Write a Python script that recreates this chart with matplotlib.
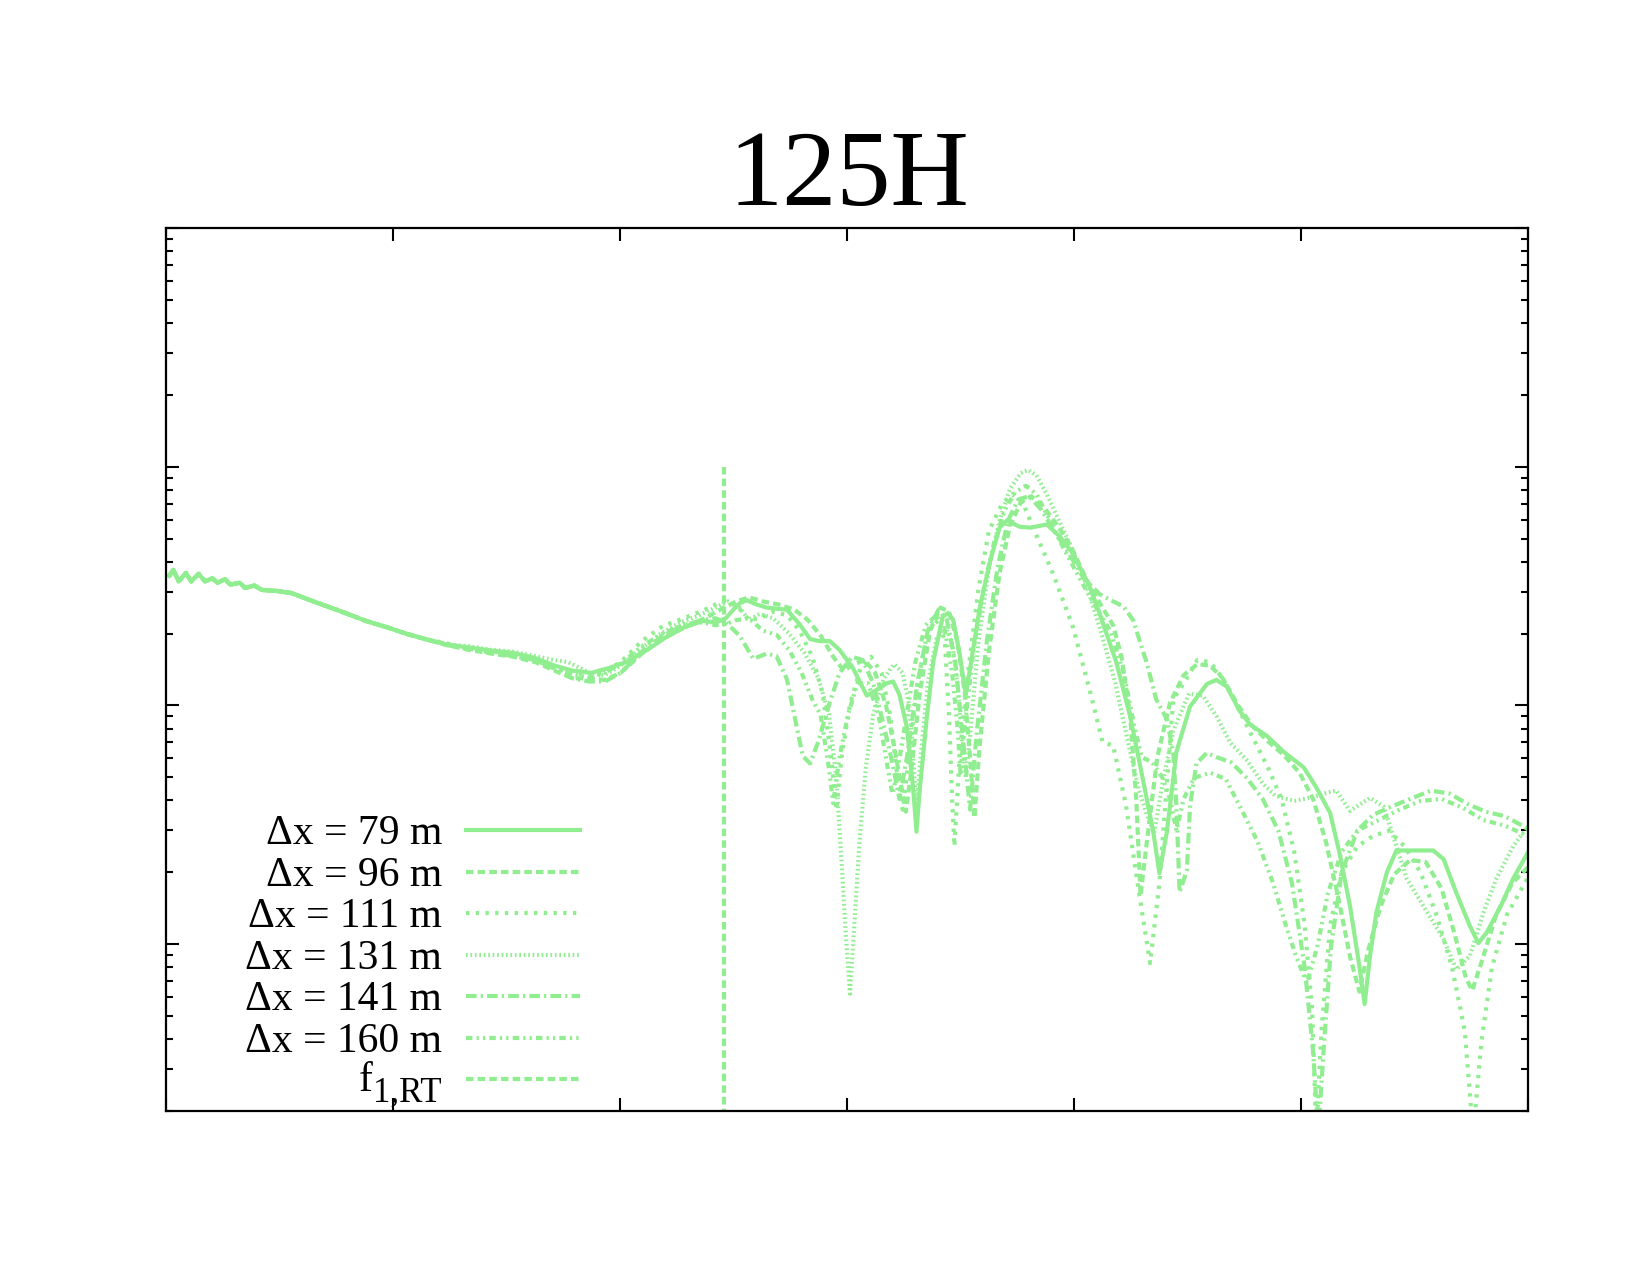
import matplotlib
matplotlib.use("Agg")
import matplotlib.pyplot as plt
from matplotlib.ticker import FixedLocator, LogLocator, NullLocator, NullFormatter

plt.rcParams['font.family'] = ['Liberation Serif', 'DejaVu Serif']
plt.rcParams['lines.scale_dashes'] = False

# shared low-frequency part (all runs agree here)
common = [(0.014, 0.0349), (0.032, 0.0370), (0.056, 0.0331), (0.088, 0.0359), (0.111, 0.0331),
          (0.144, 0.0356), (0.172, 0.0331), (0.204, 0.0341), (0.227, 0.0327), (0.260, 0.0338),
          (0.283, 0.0321), (0.325, 0.0327), (0.348, 0.0311), (0.389, 0.0318), (0.422, 0.0305),
          (0.487, 0.0302), (0.552, 0.0296), (0.649, 0.0273), (0.765, 0.0249), (0.881, 0.0226),
          (0.978, 0.0212), (1.057, 0.0200), (1.140, 0.0190)]

dx79 = [(1.238, 0.0180), (1.335, 0.0175), (1.433, 0.0170), (1.530, 0.0166), (1.627, 0.0158),
        (1.711, 0.0147), (1.790, 0.0140), (1.873, 0.0137), (1.956, 0.0144), (2.035, 0.0153),
        (2.119, 0.0171), (2.198, 0.0192), (2.281, 0.0212), (2.364, 0.0226), (2.420, 0.0223),
        (2.466, 0.0232), (2.499, 0.0252), (2.527, 0.0268), (2.559, 0.0276), (2.601, 0.0265),
        (2.647, 0.0257), (2.735, 0.0252), (2.791, 0.0219), (2.837, 0.0190), (2.879, 0.0186),
        (2.925, 0.0186), (2.967, 0.0171), (3.027, 0.0143), (3.087, 0.0110), (3.129, 0.0116),
        (3.176, 0.0124), (3.203, 0.0126), (3.231, 0.0111), (3.264, 0.00808), (3.292, 0.00440),
        (3.306, 0.00296), (3.320, 0.00440), (3.352, 0.00903), (3.380, 0.0153), (3.421, 0.0235),
        (3.445, 0.0244), (3.468, 0.0228), (3.496, 0.0165), (3.523, 0.0111), (3.547, 0.0153),
        (3.584, 0.0255), (3.630, 0.0401), (3.672, 0.0556), (3.704, 0.0596), (3.760, 0.0561),
        (3.806, 0.0556), (3.880, 0.0573), (3.936, 0.0512), (3.996, 0.0432), (4.071, 0.0311),
        (4.112, 0.0244), (4.186, 0.0152), (4.247, 0.00903), (4.302, 0.00497), (4.349, 0.00296),
        (4.376, 0.00198), (4.409, 0.00296), (4.451, 0.00639), (4.511, 0.00990), (4.585, 0.0123),
        (4.627, 0.0128), (4.673, 0.0120), (4.729, 0.00950), (4.775, 0.00833), (4.850, 0.00745),
        (4.924, 0.00639), (5.012, 0.00550), (5.067, 0.00454), (5.128, 0.00355), (5.169, 0.00242),
        (5.216, 0.00144), (5.257, 0.000808), (5.280, 0.000561), (5.304, 0.000895), (5.332, 0.00136),
        (5.378, 0.00200), (5.420, 0.00247), (5.508, 0.00247), (5.582, 0.00247), (5.628, 0.00227),
        (5.684, 0.00164), (5.744, 0.00119), (5.781, 0.00101), (5.818, 0.00112), (5.879, 0.00144),
        (5.934, 0.00188), (5.999, 0.00242)]

dx96 = [(1.238, 0.0179), (1.335, 0.0171), (1.433, 0.0165), (1.530, 0.0160), (1.627, 0.0152),
        (1.711, 0.0140), (1.790, 0.0130), (1.864, 0.0130), (1.933, 0.0128), (2.003, 0.0137),
        (2.096, 0.0165), (2.188, 0.0190), (2.281, 0.0212), (2.374, 0.0232), (2.457, 0.0257),
        (2.513, 0.0273), (2.568, 0.0284), (2.629, 0.0273), (2.698, 0.0265), (2.768, 0.0252),
        (2.828, 0.0228), (2.884, 0.0196), (2.939, 0.0160), (2.986, 0.0140), (3.032, 0.0149),
        (3.078, 0.0155), (3.124, 0.0137), (3.171, 0.0101), (3.208, 0.00673), (3.236, 0.00472),
        (3.259, 0.00359), (3.282, 0.00523), (3.320, 0.0112), (3.366, 0.0206), (3.412, 0.0257),
        (3.449, 0.0247), (3.486, 0.0186), (3.519, 0.0112), (3.542, 0.00608), (3.561, 0.00338),
        (3.584, 0.00673), (3.625, 0.0168), (3.672, 0.0359), (3.718, 0.0567), (3.765, 0.0708),
        (3.811, 0.0753), (3.866, 0.0680), (3.927, 0.0567), (3.987, 0.0463), (4.052, 0.0341),
        (4.117, 0.0265), (4.172, 0.0217), (4.209, 0.0160), (4.247, 0.00912), (4.274, 0.00406),
        (4.293, 0.00160), (4.321, 0.00270), (4.367, 0.00608), (4.423, 0.0103), (4.483, 0.0134),
        (4.543, 0.0149), (4.599, 0.0147), (4.655, 0.0130), (4.720, 0.0101), (4.784, 0.00824),
        (4.854, 0.00708), (4.924, 0.00620), (4.993, 0.00523), (5.053, 0.00406), (5.109, 0.00270),
        (5.165, 0.00155), (5.216, 0.000885), (5.257, 0.000633), (5.294, 0.000931), (5.350, 0.00144),
        (5.410, 0.00196), (5.480, 0.00225), (5.549, 0.00221), (5.619, 0.00171), (5.679, 0.00108),
        (5.726, 0.000723), (5.754, 0.000640), (5.795, 0.000841), (5.860, 0.00133), (5.930, 0.00180),
        (5.999, 0.00210)]

dx111 = [(1.238, 0.0182), (1.335, 0.0173), (1.433, 0.0168), (1.530, 0.0165), (1.627, 0.0155),
         (1.711, 0.0143), (1.790, 0.0137), (1.864, 0.0134), (1.933, 0.0137), (2.012, 0.0155),
         (2.096, 0.0186), (2.188, 0.0215), (2.281, 0.0232), (2.374, 0.0252), (2.448, 0.0273),
         (2.513, 0.0263), (2.568, 0.0228), (2.615, 0.0232), (2.675, 0.0247), (2.735, 0.0239),
         (2.791, 0.0206), (2.847, 0.0160), (2.893, 0.0112), (2.930, 0.00608), (2.953, 0.00366),
         (2.976, 0.00608), (3.013, 0.0101), (3.060, 0.0144), (3.106, 0.0160), (3.152, 0.0137),
         (3.190, 0.00912), (3.217, 0.00550), (3.245, 0.00366), (3.273, 0.00608), (3.310, 0.0124),
         (3.356, 0.0206), (3.403, 0.0228), (3.431, 0.0186), (3.449, 0.00912), (3.463, 0.00406),
         (3.473, 0.00257), (3.496, 0.00608), (3.533, 0.0137), (3.579, 0.0308), (3.625, 0.0539),
         (3.681, 0.0694), (3.727, 0.0768), (3.774, 0.0708), (3.834, 0.0517), (3.908, 0.0356),
         (3.996, 0.0212), (4.071, 0.0114), (4.126, 0.00701), (4.172, 0.00680), (4.228, 0.00386),
         (4.288, 0.00160), (4.335, 0.000833), (4.376, 0.00180), (4.437, 0.0106), (4.497, 0.0130),
         (4.543, 0.0155), (4.599, 0.0152), (4.655, 0.0130), (4.715, 0.0101), (4.784, 0.00745),
         (4.854, 0.00550), (4.914, 0.00406), (4.970, 0.00244), (5.016, 0.00120), (5.049, 0.000533),
         (5.067, 0.00016), (5.090, 0.000435), (5.128, 0.00120), (5.179, 0.00200), (5.248, 0.00257),
         (5.317, 0.00284), (5.387, 0.00299), (5.456, 0.00257), (5.526, 0.00200), (5.596, 0.00133),
         (5.665, 0.000800), (5.721, 0.000435), (5.758, 0.00016), (5.795, 0.000394), (5.841, 0.000800),
         (5.907, 0.00133), (5.999, 0.00190)]

dx131 = [(1.238, 0.0180), (1.335, 0.0177), (1.433, 0.0171), (1.530, 0.0168), (1.627, 0.0161),
         (1.711, 0.0155), (1.771, 0.0152), (1.827, 0.0143), (1.864, 0.0137), (1.933, 0.0134),
         (2.003, 0.0147), (2.086, 0.0171), (2.165, 0.0196), (2.258, 0.0221), (2.350, 0.0239),
         (2.420, 0.0257), (2.476, 0.0273), (2.527, 0.0257), (2.568, 0.0228), (2.615, 0.0242),
         (2.675, 0.0232), (2.745, 0.0200), (2.814, 0.0165), (2.874, 0.0130), (2.921, 0.00912),
         (2.953, 0.00497), (2.976, 0.00221), (2.995, 0.00108), (3.013, 0.000620), (3.032, 0.00120),
         (3.055, 0.00270), (3.083, 0.00550), (3.115, 0.00912), (3.162, 0.0130), (3.208, 0.0149),
         (3.245, 0.0137), (3.273, 0.0101), (3.292, 0.00608), (3.306, 0.00366), (3.324, 0.00608),
         (3.356, 0.0124), (3.394, 0.0190), (3.431, 0.0217), (3.463, 0.0182), (3.486, 0.0124),
         (3.505, 0.00745), (3.523, 0.00497), (3.542, 0.00745), (3.579, 0.0186), (3.625, 0.0378),
         (3.672, 0.0596), (3.718, 0.0808), (3.765, 0.0941), (3.797, 0.0970), (3.834, 0.0922),
         (3.880, 0.0768), (3.927, 0.0614), (3.987, 0.0463), (4.052, 0.0324), (4.117, 0.0206),
         (4.182, 0.0124), (4.237, 0.00708), (4.284, 0.00449), (4.321, 0.00348), (4.353, 0.00293),
         (4.390, 0.00472), (4.437, 0.00783), (4.506, 0.0112), (4.567, 0.0110), (4.627, 0.00903),
         (4.687, 0.00701), (4.761, 0.00590), (4.831, 0.00472), (4.887, 0.00418), (4.970, 0.00398),
         (5.053, 0.00414), (5.113, 0.00431), (5.155, 0.00440), (5.216, 0.00362), (5.304, 0.00410),
         (5.364, 0.00377), (5.406, 0.00284), (5.466, 0.00188), (5.540, 0.00144), (5.628, 0.00105),
         (5.684, 0.000784), (5.744, 0.000894), (5.804, 0.00136), (5.860, 0.00188), (5.934, 0.00257),
         (5.999, 0.00311)]

dx141 = [(1.238, 0.0179), (1.335, 0.0173), (1.433, 0.0166), (1.530, 0.0161), (1.627, 0.0155),
         (1.711, 0.0143), (1.790, 0.0130), (1.864, 0.0126), (1.933, 0.0126), (2.003, 0.0137),
         (2.096, 0.0168), (2.188, 0.0196), (2.281, 0.0217), (2.364, 0.0228), (2.420, 0.0232),
         (2.466, 0.0223), (2.527, 0.0196), (2.587, 0.0157), (2.647, 0.0165), (2.689, 0.0161),
         (2.735, 0.0129), (2.763, 0.00960), (2.805, 0.00614), (2.837, 0.00572), (2.874, 0.00708),
         (2.921, 0.0101), (2.967, 0.0137), (3.023, 0.0160), (3.069, 0.0155), (3.115, 0.0124),
         (3.162, 0.00824), (3.199, 0.00578), (3.231, 0.00406), (3.264, 0.00608), (3.310, 0.0124),
         (3.356, 0.0206), (3.403, 0.0252), (3.440, 0.0228), (3.477, 0.0152), (3.505, 0.00824),
         (3.528, 0.00497), (3.542, 0.00366), (3.570, 0.00745), (3.616, 0.0186), (3.663, 0.0378),
         (3.709, 0.0596), (3.755, 0.0730), (3.802, 0.0753), (3.857, 0.0659), (3.913, 0.0539),
         (3.973, 0.0440), (4.043, 0.0341), (4.112, 0.0293), (4.172, 0.0273), (4.218, 0.0260),
         (4.260, 0.0228), (4.321, 0.0150), (4.362, 0.0106), (4.409, 0.00876), (4.437, 0.00633),
         (4.451, 0.00378), (4.465, 0.00165), (4.497, 0.00204), (4.511, 0.00378), (4.539, 0.00572),
         (4.585, 0.00633), (4.627, 0.00608), (4.692, 0.00578), (4.761, 0.00497), (4.831, 0.00406),
         (4.900, 0.00299), (4.960, 0.00180), (5.016, 0.000800), (5.053, 0.000356), (5.076, 0.00016),
         (5.099, 0.000356), (5.132, 0.000980), (5.179, 0.00200), (5.248, 0.00299), (5.317, 0.00348),
         (5.387, 0.00373), (5.480, 0.00406), (5.573, 0.00440), (5.656, 0.00427), (5.735, 0.00386),
         (5.813, 0.00359), (5.897, 0.00344), (5.999, 0.00305)]

dx160 = [(1.238, 0.0180), (1.335, 0.0173), (1.433, 0.0168), (1.530, 0.0163), (1.627, 0.0157),
         (1.711, 0.0146), (1.790, 0.0136), (1.864, 0.0130), (1.933, 0.0137), (2.012, 0.0152),
         (2.096, 0.0177), (2.188, 0.0200), (2.281, 0.0219), (2.364, 0.0223), (2.420, 0.0217),
         (2.466, 0.0219), (2.513, 0.0228), (2.568, 0.0232), (2.629, 0.0206), (2.689, 0.0198),
         (2.745, 0.0171), (2.800, 0.0137), (2.847, 0.0106), (2.884, 0.00912), (2.921, 0.00540),
         (2.939, 0.00390), (2.967, 0.00608), (3.004, 0.00912), (3.046, 0.0124), (3.092, 0.0124),
         (3.139, 0.00912), (3.171, 0.00608), (3.199, 0.00427), (3.217, 0.00497), (3.255, 0.00824),
         (3.301, 0.0152), (3.347, 0.0217), (3.394, 0.0239), (3.431, 0.0206), (3.463, 0.0137),
         (3.486, 0.00824), (3.500, 0.00523), (3.514, 0.00745), (3.556, 0.0168), (3.602, 0.0308),
         (3.649, 0.0486), (3.695, 0.0659), (3.741, 0.0783), (3.788, 0.0833), (3.834, 0.0768),
         (3.894, 0.0596), (3.950, 0.0463), (4.019, 0.0349), (4.089, 0.0265), (4.159, 0.0206),
         (4.219, 0.0137), (4.265, 0.00824), (4.298, 0.00608), (4.344, 0.00578), (4.390, 0.00497),
         (4.423, 0.00406), (4.451, 0.00299), (4.483, 0.00406), (4.529, 0.00497), (4.599, 0.00523),
         (4.668, 0.00492), (4.738, 0.00366), (4.808, 0.00270), (4.877, 0.00180), (4.933, 0.00120),
         (4.979, 0.000885), (5.026, 0.000687), (5.072, 0.000980), (5.118, 0.00163), (5.179, 0.00244),
         (5.248, 0.00299), (5.341, 0.00331), (5.433, 0.00366), (5.526, 0.00398), (5.619, 0.00406),
         (5.712, 0.00373), (5.804, 0.00331), (5.897, 0.00314), (5.999, 0.00284)]

# first rigid-body frequency marker
f1_rt = 2.457
f1_top = 0.1

labels = ["Δx = 79 m", "Δx = 96 m", "Δx = 111 m", "Δx = 131 m", "Δx = 141 m", "Δx = 160 m"]
series = [dx79, dx96, dx111, dx131, dx141, dx160]
dashes = ['-', (0, (5.4, 3.0)), (0, (2.4, 4.6)), (0, (1.2, 2.0)),
          (0, (7.6, 3.0, 1.6, 3.0)), (0, (4.6, 3.0, 1.6, 3.0, 1.6, 3.0))]
rt_dash = (0, (5.4, 3.0))

GREEN = '#90ee90'
LW = 3.0


def main():
    fig = plt.figure(figsize=(16.5, 12.75), dpi=100)
    ax = fig.add_axes([0.1006, 0.1286, 0.8255, 0.6925])

    for pts, ls in zip(series, dashes):
        full = common + pts
        xs = [p[0] for p in full]
        ys = [p[1] for p in full]
        ax.plot(xs, ys, color=GREEN, lw=LW, ls=ls, dash_capstyle='butt',
                solid_joinstyle='round')

    ax.plot([f1_rt, f1_rt], [f1_top, 1e-5], color=GREEN, lw=LW, ls=rt_dash,
            dash_capstyle='butt')

    ax.set_yscale('log')
    ax.xaxis.set_major_locator(FixedLocator([0, 1, 2, 3, 4, 5, 6]))
    ax.xaxis.set_minor_locator(NullLocator())
    ax.yaxis.set_major_locator(LogLocator(base=10, numticks=12))
    ax.yaxis.set_minor_locator(LogLocator(base=10, subs=range(2, 10), numticks=40))
    ax.yaxis.set_minor_formatter(NullFormatter())
    ax.tick_params(which='both', direction='in', top=True, right=True,
                   labelbottom=False, labelleft=False, width=1.5, color='black')
    ax.tick_params(which='major', length=9.5)
    ax.tick_params(which='minor', length=5)
    for s in ax.spines.values():
        s.set_linewidth(1.6)

    # key, gnuplot style: right-aligned text, sample to the right
    key_styles = dashes + [rt_dash]
    for i, ls in enumerate(key_styles):
        yk = 0.3182 - i * 0.0470
        ax.plot([0.2203, 0.3040], [yk, yk], transform=ax.transAxes, color=GREEN,
                lw=LW, ls=ls, dash_capstyle='butt', clip_on=False)
        if i < len(labels):
            ax.text(0.2026, yk - 0.0159, labels[i], transform=ax.transAxes,
                    ha='right', va='baseline', fontsize=30)
        else:
            sub = ax.text(0.2026, yk - 0.0260, "1,RT", transform=ax.transAxes,
                          ha='right', va='baseline', fontsize=25)
            ax.annotate("f", xy=(0, 0), xycoords=sub, xytext=(-0.5, 14),
                        textcoords='offset points', ha='right', va='baseline',
                        fontsize=30)

    ax.set_xlim(0, 6)
    ax.set_ylim(2e-4, 1)

    fig.text(0.5145, 0.8392, "125H", ha='center', va='baseline', fontsize=78)
    fig.savefig("out.png", dpi=100)


if __name__ == "__main__":
    main()
